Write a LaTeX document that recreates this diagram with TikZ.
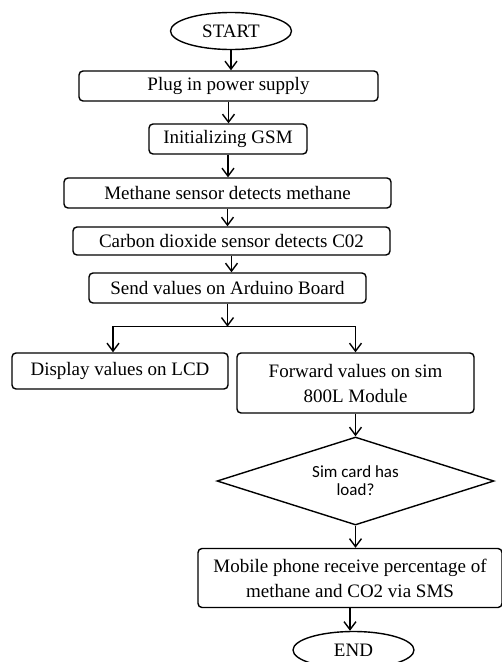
\documentclass[tikz,border=0pt]{standalone}
\usepackage{fontspec}
\setmainfont{Liberation Serif}
\newfontfamily\simfont{Carlito}
\usetikzlibrary{shapes.geometric, arrows.meta}

\begin{document}
\begin{tikzpicture}[x=1pt, y=-1pt, line width=1.4pt,
    font=\fontsize{19}{25}\selectfont,
    blk/.style={draw, rounded corners=4pt, inner sep=0pt, align=center},
    oval/.style={draw, ellipse, inner sep=0pt, minimum width=121pt, minimum height=37pt},
    arr/.style={-{Straight Barb[length=8pt, width=12pt]}}]
  %flowchart, methane / CO2 monitor
  \useasboundingbox (0,0) rectangle (502,662);
  \node[oval] (start) at (231,31) {START};
  \node[blk, minimum width=299pt, minimum height=30pt] (plug) at (228.5,86) {Plug in power supply};
  \node[blk, minimum width=158pt, minimum height=30pt] (gsm) at (228,139) {Initializing GSM};
  \node[blk, minimum width=327pt, minimum height=30pt] (meth) at (227.5,193) {Methane sensor detects methane};
  \node[blk, minimum width=317pt, minimum height=28pt] (co2) at (231.5,241) {Carbon dioxide sensor detects C02};
  \node[blk, minimum width=277pt, minimum height=30pt] (send) at (227.5,288) {Send values on Arduino Board};
  \node[blk, minimum width=216pt, minimum height=36pt] (lcd) at (120,371) {Display values on LCD};
  \node[blk, minimum width=237pt, minimum height=60pt] (fwd) at (355.5,383) {Forward values on sim\\800L Module};
  \node[draw, diamond, aspect=3, inner sep=0pt, minimum width=277pt, minimum height=88pt,
        align=center, font=\simfont\fontsize{17}{18}\selectfont] (sim) at (355.5,481) {Sim card has\\load?};
  \node[blk, minimum width=304pt, minimum height=59pt] (mob) at (350,578) {Mobile phone receive percentage of\\methane and CO2 via SMS};
  \node[oval] (stop) at (353.5,650) {END};

  \foreach \a/\b in {start/plug, plug/gsm, gsm/meth, meth/co2, co2/send}{
    \draw[arr] (\a.south) -- (\a.south |- \b.north);
  }
  \draw[arr] (send.south) -- ++(0,23) coordinate (split);
  \draw[arr] (split) -| ([xshift=-7pt]lcd.north);
  \draw[arr] (split) -| (fwd.north);
  \draw[arr] (fwd.south) -- (sim.north);
  \draw[arr] (sim.south) -- (sim.south |- mob.north);
  \draw[arr] (mob.south) -- (mob.south |- stop.north);
\end{tikzpicture}
\end{document}
